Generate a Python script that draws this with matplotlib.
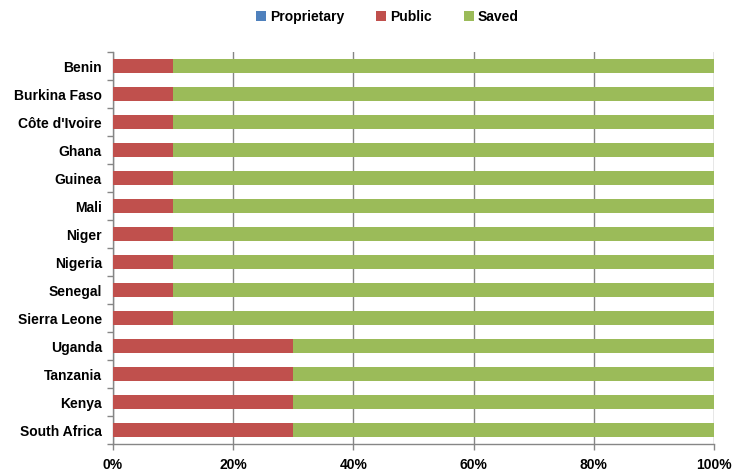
import matplotlib
matplotlib.use("Agg")
import matplotlib.pyplot as plt
import numpy as np

countries = ["Benin", "Burkina Faso", "Côte d'Ivoire", "Ghana", "Guinea", "Mali",
             "Niger", "Nigeria", "Senegal", "Sierra Leone", "Uganda", "Tanzania",
             "Kenya", "South Africa"]
proprietary = [0, 0, 0, 0, 0, 0, 0, 0, 0, 0, 0, 0, 0, 0]
public = [10, 10, 10, 10, 10, 10, 10, 10, 10, 10, 30, 30, 30, 30]
saved = [90, 90, 90, 90, 90, 90, 90, 90, 90, 90, 70, 70, 70, 70]
xticks = [0, 20, 40, 60, 80, 100]
xticklabels = ["0%", "20%", "40%", "60%", "80%", "100%"]

plt.rcParams['font.family'] = ['Liberation Sans', 'DejaVu Sans']
plt.rcParams['font.weight'] = 'bold'

fig = plt.figure(figsize=(7.33, 4.75), dpi=100)
ax = fig.add_axes([0.154, 0.065, 0.820, 0.8255])

y = np.arange(len(countries))
h = 0.5
c_prop, c_pub, c_sav = "#4F81BD", "#C0504D", "#9BBB59"
prop = np.array(proprietary, float)
pub = np.array(public, float)
sav = np.array(saved, float)
ax.barh(y, prop, height=h, color=c_prop, label="Proprietary", zorder=3)
ax.barh(y, pub, left=prop, height=h, color=c_pub, label="Public", zorder=3)
ax.barh(y, sav, left=prop + pub, height=h, color=c_sav, label="Saved", zorder=3)

ax.set_xlim(0, 100)
ax.set_ylim(len(countries) - 0.5, -0.5)
ax.set_xticks(xticks)
ax.set_xticklabels(xticklabels, fontsize=10, fontweight='bold')
ax.set_yticks(y)
ax.set_yticklabels(countries, fontsize=10, fontweight='bold')
ax.tick_params(axis='y', which='major', length=0, pad=8)
ax.set_yticks(np.arange(-0.5, len(countries), 1), minor=True)
ax.tick_params(axis='y', which='minor', length=4, color='#868686', width=1)
ax.tick_params(axis='x', length=4, color='#868686', width=1, pad=6)

ax.grid(axis='x', color='#868686', linewidth=1, zorder=0)
for s in ['top', 'right']:
    ax.spines[s].set_visible(False)
for s in ['left', 'bottom']:
    ax.spines[s].set_color('#868686')
    ax.spines[s].set_linewidth(1)

ax.legend(loc='center', bbox_to_anchor=(0.457, 1.089), ncol=3, frameon=False,
          handlelength=0.7, handleheight=0.7, handletextpad=0.3,
          columnspacing=2.3, prop={'weight': 'bold', 'size': 10})

fig.savefig("out.png", dpi=100)
